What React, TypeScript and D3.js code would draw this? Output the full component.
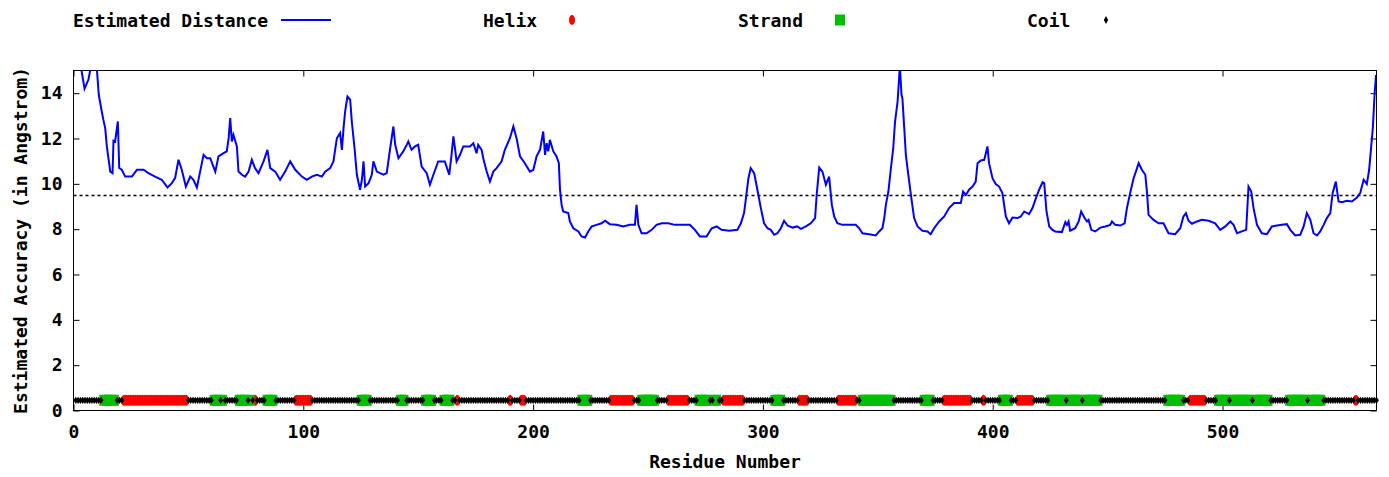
import { useEffect, useRef } from 'react';
import * as d3 from 'd3';

// residue position (x) and estimated distance (y)
const residue = [
  0, 3, 4.8, 6.5, 8, 10, 11, 12.3, 13, 13.8, 14.5, 15.2, 16, 17, 17.4, 18.1, 19.3, 19.9, 21, 22.5,
  25.4, 27.6, 30.5, 32.6, 35.5, 38.4, 40.9, 42.8, 44.2, 45.7, 47.1, 48.9, 50.8, 52.2, 53.7, 55.1, 56.6, 58, 59.5, 61.7,
  63.1, 65.3, 66.7, 67.5, 68.2, 68.9, 69.6, 71.1, 71.8, 73.3, 74.7, 76.2, 77.6, 79, 80.5, 82.7, 84.4, 85.6, 87.8, 89.9,
  92.1, 94.3, 96.5, 99.4, 101.5, 103.7, 105.9, 108.1, 109.5, 111.7, 113.1, 114.6, 116, 116.8, 117.5, 118.2, 119.2, 120.4, 121.1, 122.3,
  123.3, 124.7, 125.5, 126.2, 126.9, 128.4, 129.8, 130.5, 132, 133.4, 134.9, 136.3, 137.8, 139.2, 140, 141.4, 143.5, 145, 145.7, 147.1,
  148.6, 150, 151.5, 153.7, 155.1, 156.6, 158.7, 161.6, 163.5, 164.5, 165.3, 166, 166.7, 168.2, 169.6, 172.5, 174, 175.4, 176.1, 177.6,
  178.3, 179.8, 181.2, 182.7, 184.1, 186.3, 187.7, 189.9, 191.4, 192.8, 194.3, 196.4, 198.6, 200.1, 201.5, 203, 204.4, 205.2, 205.9, 206.6,
  207.3, 208.8, 210.2, 211.2, 211.7, 212.4, 213.1, 215.3, 216, 217.5, 219.7, 221.1, 222.6, 224, 225.5, 227.6, 229.8, 231.3, 233.4, 236.3,
  239.2, 242.1, 244.3, 245, 245.8, 247.2, 249.4, 251.6, 253.7, 256, 258.8, 261.7, 265.4, 268.2, 270.4, 272.6, 275.5, 277.7, 279.9, 282,
  285.3, 288.9, 290.4, 291.8, 292.8, 293.7, 294.7, 296.2, 297.6, 299.1, 300.5, 302, 303.4, 304.9, 306.3, 307.8, 309.2, 310.7, 312.9, 315,
  316.5, 318.7, 320.8, 322.7, 323.4, 324.5, 325.9, 327.4, 328.8, 330, 331, 332.4, 334.6, 337.5, 340.4, 341.9, 343.3, 346.2, 349.1, 350.6,
  352, 352.8, 353.5, 354.6, 355.7, 356.7, 357.5, 358.6, 359.6, 360.3, 360.7, 361.5, 362.2, 362.9, 364.4, 365.8, 367.3, 369.4, 371.6, 373,
  374.5, 376.7, 378.9, 381, 383.2, 386.1, 387.1, 388.3, 389.7, 391.2, 392.6, 393.4, 394.8, 396.3, 397, 397.7, 398.4, 399.9, 401.3, 402.8,
  404.2, 405.7, 407.1, 408.6, 410.8, 412.2, 413.7, 415.8, 417.3, 418.8, 420.2, 421.7, 422.4, 423.4, 424.6, 426, 427.2, 430.1, 431.6, 432.3,
  433, 433.7, 435.9, 437.4, 438.5, 440, 441, 441.7, 442.9, 444.6, 446.8, 449, 451.1, 451.9, 453.3, 455.5, 457.4, 458.4, 459.8, 461.3,
  462.3, 463.5, 464.9, 466.4, 467.1, 467.8, 470, 472.2, 474.3, 476.5, 479.4, 481.6, 483, 484.1, 485.2, 486.7, 488.9, 491, 494, 496.8,
  499, 501.2, 503.4, 504.8, 506.3, 508.4, 510.3, 511.3, 512.5, 513.5, 515, 517.1, 519.3, 521.5, 523.7, 525.8, 528, 529.5, 531.6, 533.8,
  535.3, 536.7, 538.2, 539.6, 541.1, 542.5, 544, 545.4, 546.9, 547.9, 549.3, 550.5, 552, 554.1, 556.3, 558.5, 559.9, 561.4, 562.8, 563.8,
  564.7, 565.4, 566.2, 566.8
];

const distance = [
  15.4, 15.3, 14.2, 14.6, 15.4, 15.3, 13.93, 13.19, 12.82, 12.46, 11.65, 11.13, 10.54, 10.47, 11.9, 11.87, 12.75, 10.7, 10.62, 10.32,
  10.32, 10.62, 10.62, 10.47, 10.32, 10.18, 9.84, 10.03, 10.25, 11.06, 10.62, 9.88, 10.32, 10.18, 9.84, 10.54, 11.28, 11.13, 11.13, 10.54,
  11.21, 11.35, 11.43, 12.01, 12.9, 11.87, 12.16, 11.65, 10.54, 10.4, 10.32, 10.54, 11.06, 10.69, 10.47, 10.99, 11.5, 10.69, 10.54, 10.18,
  10.54, 10.99, 10.62, 10.32, 10.18, 10.32, 10.4, 10.32, 10.54, 10.69, 10.99, 12.01, 12.24, 11.5, 12.46, 13.19, 13.85, 13.71, 12.75, 11.57,
  10.4, 9.74, 10.18, 10.99, 9.88, 10.03, 10.4, 10.99, 10.54, 10.47, 10.4, 10.47, 11.57, 12.53, 11.72, 11.13, 11.43, 11.72, 11.87, 11.5,
  11.65, 11.72, 10.76, 10.47, 9.96, 10.4, 10.99, 10.99, 10.4, 11.28, 12.09, 11.57, 10.99, 11.28, 11.65, 11.65, 11.79, 11.35, 11.72, 11.5,
  11.13, 10.54, 10.1, 10.54, 10.69, 10.99, 11.5, 12.01, 12.53, 12.01, 11.21, 10.91, 10.54, 10.62, 11.21, 11.5, 12.31, 11.28, 11.79, 11.43,
  11.94, 11.43, 11.21, 10.91, 9.74, 9.07, 8.78, 8.71, 8.34, 8.04, 7.9, 7.68, 7.63, 7.9, 8.12, 8.19, 8.26, 8.37, 8.22, 8.19,
  8.12, 8.19, 8.19, 9.07, 8.19, 7.82, 7.82, 7.97, 8.19, 8.26, 8.26, 8.19, 8.19, 8.19, 7.97, 7.68, 7.68, 8.04, 8.12, 7.97,
  7.93, 7.97, 8.26, 8.71, 9.51, 10.25, 10.69, 10.47, 9.74, 8.93, 8.26, 8.04, 7.97, 7.75, 7.82, 8.04, 8.37, 8.16, 8.07, 8.12,
  8.01, 8.12, 8.26, 8.49, 9.51, 10.72, 10.54, 9.96, 10.32, 9.07, 8.56, 8.26, 8.19, 8.19, 8.19, 8.04, 7.82, 7.78, 7.72, 7.9,
  8.04, 8.49, 9.07, 9.66, 10.69, 11.57, 12.75, 13.63, 15.2, 13.93, 13.78, 12.46, 11.28, 10.69, 9.51, 8.49, 8.12, 7.93, 7.9, 7.78,
  8.04, 8.34, 8.56, 8.93, 9.15, 9.15, 9.66, 9.51, 9.74, 9.88, 10.1, 10.91, 11.03, 11.06, 11.35, 11.65, 10.91, 10.25, 9.99, 9.88,
  9.59, 8.56, 8.26, 8.51, 8.49, 8.56, 8.78, 8.66, 8.93, 9.37, 9.74, 10.07, 10.03, 8.78, 8.12, 7.97, 7.9, 7.87, 8.31, 8.19,
  8.34, 7.93, 8.04, 8.34, 8.78, 8.49, 8.34, 8.41, 7.97, 7.9, 8.07, 8.12, 8.19, 8.34, 8.19, 8.16, 8.26, 8.93, 9.59, 10.25,
  10.54, 10.91, 10.62, 10.4, 9.66, 8.63, 8.41, 8.26, 8.26, 7.82, 7.78, 8.04, 8.56, 8.71, 8.37, 8.24, 8.34, 8.41, 8.37, 8.26,
  7.97, 8.12, 8.34, 8.19, 7.82, 7.9, 7.97, 9.88, 9.66, 8.93, 8.19, 7.82, 7.78, 8.12, 8.16, 8.19, 8.22, 7.97, 7.72, 7.75,
  8.12, 8.71, 8.41, 7.82, 7.72, 7.9, 8.19, 8.49, 8.71, 9.59, 10.1, 9.22, 9.19, 9.25, 9.22, 9.4, 9.59, 10.18, 9.99, 10.62,
  11.65, 12.46, 14.0, 14.8
];

// secondary structure, inclusive residue ranges; everything else is coil
const helixSegments = [
  [22, 49], [79, 79], [97, 103], [167, 167], [190, 190], [195, 196], [234, 243], [259, 267],
  [283, 291], [316, 319], [333, 340], [379, 390], [396, 396], [411, 417], [486, 492], [558, 558]
];
const strandSegments = [
  [13, 18], [61, 63], [65, 65], [72, 75], [77, 77], [84, 87], [125, 128], [142, 144], [153, 156],
  [161, 164], [221, 224], [247, 253], [272, 276], [279, 280], [305, 308], [343, 356], [370, 373],
  [404, 407], [425, 431], [433, 438], [440, 446], [476, 482], [498, 502], [504, 512], [514, 520],
  [529, 536], [538, 543]
];

const sequenceLength = 567;
const threshold = 9.5;
const ssLevel = 0.45;
const xTicks = [0, 100, 200, 300, 400, 500];
const yTicks = [0, 2, 4, 6, 8, 10, 12, 14];

const FONT = '"DejaVu Sans Mono", monospace';

// small diamond used for coil residues
const diamond = (cx: number, cy: number, w: number, h: number) =>
  `M${cx - w},${cy}L${cx},${cy - h}L${cx + w},${cy}L${cx},${cy + h}Z`;

export default function App() {
  const ref = useRef<SVGSVGElement>(null);

  useEffect(() => {
    const svg = d3.select(ref.current);
    svg.selectAll('*').remove();

    const x = d3.scaleLinear().domain([0, sequenceLength]).range([73.5, 1376.5]);
    const y = d3.scaleLinear().domain([0, 15]).range([410.5, 70.5]);
    const [x0, x1] = x.range();
    const [y0, y1] = y.range();

    svg.append('rect').attr('width', 1389).attr('height', 477).attr('fill', '#fff');

    svg.append('defs').append('clipPath').attr('id', 'plot-clip')
      .append('rect').attr('x', x0).attr('y', y1).attr('width', x1 - x0).attr('height', y0 - y1);

    const styleAxis = (g: any) => {
      g.select('.domain').remove();
      g.selectAll('line').attr('stroke', '#000');
      g.selectAll('text').attr('font-family', FONT).attr('font-size', 18)
        .attr('font-weight', 'bold').attr('fill', '#000');
    };

    svg.append('g').attr('transform', `translate(0,${y0})`)
      .call(d3.axisBottom(x).tickValues(xTicks).tickSizeInner(-6).tickSizeOuter(0).tickPadding(15))
      .call(styleAxis);
    svg.append('g').attr('transform', `translate(0,${y1})`)
      .call(d3.axisTop(x).tickValues(xTicks).tickFormat(() => '').tickSizeInner(-6).tickSizeOuter(0))
      .call(styleAxis);
    svg.append('g').attr('transform', `translate(${x0},0)`)
      .call(d3.axisLeft(y).tickValues(yTicks).tickSizeInner(-6).tickSizeOuter(0).tickPadding(11))
      .call(styleAxis);
    svg.append('g').attr('transform', `translate(${x1},0)`)
      .call(d3.axisRight(y).tickValues(yTicks).tickFormat(() => '').tickSizeInner(-6).tickSizeOuter(0))
      .call(styleAxis);

    svg.append('rect').attr('x', x0).attr('y', y1).attr('width', x1 - x0).attr('height', y0 - y1)
      .attr('fill', 'none').attr('stroke', '#000').attr('stroke-width', 1);

    // threshold line
    svg.append('line').attr('x1', x0).attr('x2', x1)
      .attr('y1', Math.round(y(threshold)) + 0.5).attr('y2', Math.round(y(threshold)) + 0.5)
      .attr('stroke', '#000').attr('stroke-width', 1.5).attr('stroke-dasharray', '3,3');

    // distance curve
    const pts = residue.map((r, i) => [r, distance[i]] as [number, number]);
    const line = d3.line<[number, number]>().x(d => x(d[0])).y(d => y(d[1]));
    svg.append('path').datum(pts).attr('clip-path', 'url(#plot-clip)')
      .attr('d', line).attr('fill', 'none').attr('stroke', '#0000ff').attr('stroke-width', 2)
      .attr('stroke-linejoin', 'miter');

    // secondary structure strip
    const type: string[] = [];
    for (let i = 1; i <= sequenceLength; i++) type[i] = 'C';
    helixSegments.forEach(([a, b]) => { for (let i = a; i <= b; i++) type[i] = 'H'; });
    strandSegments.forEach(([a, b]) => { for (let i = a; i <= b; i++) type[i] = 'E'; });
    const ids = d3.range(1, sequenceLength + 1);
    const sy = y(ssLevel);

    svg.append('g').selectAll('ellipse').data(ids.filter(i => type[i] === 'H')).enter()
      .append('ellipse').attr('cx', d => x(d)).attr('cy', sy).attr('rx', 3).attr('ry', 5.5).attr('fill', '#ff0000');
    svg.append('g').selectAll('rect').data(ids.filter(i => type[i] === 'E')).enter()
      .append('rect').attr('x', d => x(d) - 4).attr('y', sy - 5.5).attr('width', 8).attr('height', 11).attr('fill', '#00c000');
    svg.append('g').selectAll('path').data(ids.filter(i => type[i] === 'C')).enter()
      .append('path').attr('d', d => diamond(x(d), sy, 2.4, 3.6)).attr('fill', '#000');

    // axis titles
    svg.append('text').attr('x', (x0 + x1) / 2).attr('y', 468).attr('text-anchor', 'middle')
      .attr('font-family', FONT).attr('font-size', 18).attr('font-weight', 'bold')
      .text('Residue Number');
    svg.append('text').attr('transform', `translate(26.5,${(y0 + y1) / 2}) rotate(-90)`).attr('text-anchor', 'middle')
      .attr('font-family', FONT).attr('font-size', 18).attr('font-weight', 'bold')
      .text('Estimated Accuracy (in Angstrom)');

    // legend
    const legend = svg.append('g').attr('font-family', FONT).attr('font-size', 18).attr('font-weight', 'bold');
    legend.append('text').attr('x', 73).attr('y', 26.5).text('Estimated Distance');
    legend.append('line').attr('x1', 281).attr('x2', 331).attr('y1', 20).attr('y2', 20)
      .attr('stroke', '#0000ff').attr('stroke-width', 2);
    legend.append('text').attr('x', 483).attr('y', 26.5).text('Helix');
    legend.append('ellipse').attr('cx', 572).attr('cy', 20).attr('rx', 3).attr('ry', 5).attr('fill', '#ff0000');
    legend.append('text').attr('x', 738).attr('y', 26.5).text('Strand');
    legend.append('rect').attr('x', 835).attr('y', 14.5).attr('width', 10).attr('height', 11).attr('fill', '#00c000');
    legend.append('text').attr('x', 1027).attr('y', 26.5).text('Coil');
    legend.append('path').attr('d', diamond(1106, 20, 2.2, 4)).attr('fill', '#000');
  }, []);

  return (
    <svg ref={ref} width={1389} height={477}
      style={{ position: 'absolute', left: 0, top: 0, display: 'block' }} />
  );
}
